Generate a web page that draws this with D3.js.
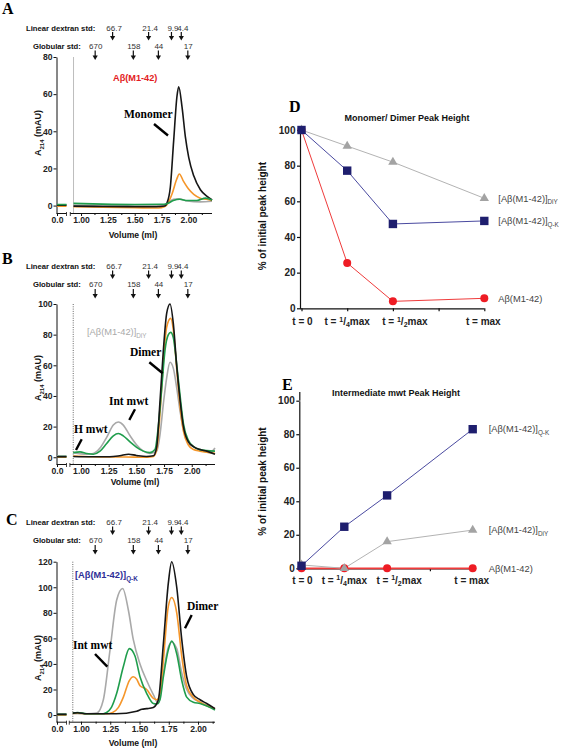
<!DOCTYPE html>
<html><head><meta charset="utf-8">
<script src="https://cdn.jsdelivr.net/npm/d3@7"></script>
<style>
body{margin:0;background:#fff}
svg{display:block}
</style>
</head><body>
<svg id="c" width="563" height="750"></svg>
<script>
// ---------------- DATA ----------------
// chromatograms: [volume (ml), A214 (mAU)], null = axis break
const A_grey   = [[0,0.3],[0.1,0.3],[0.5,null],[0.93,0.2],[1.5,0],[1.75,0.2],[1.80,1],[1.86,3.4],[1.91,3.6],[1.99,2.5],[2.11,2],[2.22,2.3]];
const A_orange = [[0,-0.3],[0.1,-0.3],[0.5,null],[0.93,-0.6],[1.2,-0.9],[1.5,-1.2],[1.72,-1.3],[1.78,-0.5],[1.80,0.5],[1.85,6.6],[1.89,14],[1.916,17],[1.955,13],[2.0,9],[2.05,6],[2.11,4],[2.17,3.4],[2.22,2.7]];
const A_green  = [[0,0.6],[0.1,0.6],[0.5,null],[0.93,1.2],[1.2,0.8],[1.5,0.6],[1.75,0.7],[1.80,1],[1.86,2.7],[1.92,3.4],[1.99,2.7],[2.08,2.7],[2.16,4],[2.22,3]];
const A_black  = [[0,0.2],[0.1,0.2],[0.5,null],[0.93,-0.3],[1.2,-0.5],[1.5,-0.6],[1.7,-0.6],[1.78,-0.2],[1.80,1.3],[1.832,10],[1.863,35],[1.894,59],[1.91,64],[1.941,53],[1.972,37],[2.003,26],[2.05,16],[2.112,8.5],[2.174,5],[2.221,3]];

const B_grey   = [[0,1],[0.1,1],[0.5,null],[0.93,3],[1.051,2],[1.111,2.5],[1.172,6],[1.232,13],[1.292,21],[1.337,23],[1.382,21],[1.443,14],[1.503,8],[1.563,4],[1.623,2.5],[1.684,4],[1.714,15],[1.744,35],[1.774,52],[1.804,62],[1.834,58],[1.865,45],[1.895,30],[1.925,18],[1.97,10],[2.015,7],[2.075,5],[2.165,3],[2.21,6]];
const B_orange = [[0,0],[0.1,0],[0.5,null],[0.93,0.8],[1.1,0.3],[1.4,0.2],[1.6,0],[1.654,0.5],[1.684,5],[1.714,29],[1.744,63],[1.774,85],[1.81,90.6],[1.834,83],[1.865,57],[1.895,33],[1.925,17],[1.97,8],[2.015,5],[2.075,4],[2.21,2.6]];
const B_green  = [[0,0.5],[0.1,0.5],[0.5,null],[0.93,3],[0.991,3.5],[1.051,2.5],[1.111,2],[1.172,4],[1.232,9],[1.292,14],[1.337,15.5],[1.382,14],[1.443,10],[1.503,6.5],[1.563,4],[1.623,3],[1.668,5],[1.698,20],[1.729,45],[1.759,70],[1.789,80],[1.81,81.5],[1.834,78],[1.865,60],[1.895,40],[1.925,22],[1.97,11],[2.015,7],[2.075,5],[2.21,4]];
const B_black  = [[0,0.3],[0.1,0.3],[0.5,null],[0.93,0.5],[1.1,0.3],[1.26,0.3],[1.35,1],[1.43,2],[1.5,1.2],[1.59,0.5],[1.654,1],[1.684,7],[1.714,37],[1.744,70],[1.774,94],[1.804,100],[1.834,87],[1.865,59],[1.895,37],[1.925,20],[1.97,10],[2.015,7],[2.075,5],[2.135,4],[2.21,2]];

const C_grey   = [[0,0.5],[0.1,0.5],[0.5,null],[0.93,1.2],[1.05,1],[1.134,1.5],[1.191,12],[1.248,51],[1.305,90],[1.356,99],[1.405,82],[1.447,59],[1.504,40],[1.561,27],[1.618,16],[1.661,9],[1.704,33],[1.746,53],[1.775,57],[1.818,52],[1.861,33],[1.903,20],[1.96,13],[2.017,10],[2.145,5]];
const C_orange = [[0,0],[0.1,0],[0.5,null],[0.93,1.2],[0.97,1.5],[1.05,1],[1.219,1],[1.27,2],[1.32,6],[1.362,14],[1.413,27],[1.447,30],[1.476,28],[1.504,23],[1.561,20],[1.618,13],[1.647,12],[1.675,17],[1.704,43],[1.746,85],[1.775,92],[1.818,80],[1.861,46],[1.903,23],[1.96,14],[2.017,10],[2.145,5]];
const C_green  = [[0,0.5],[0.1,0.5],[0.5,null],[0.93,1.5],[0.97,2],[1.05,1],[1.19,1],[1.219,2],[1.26,6],[1.305,17],[1.362,38],[1.413,52],[1.462,46],[1.504,30],[1.561,17],[1.618,9],[1.647,8.6],[1.675,12],[1.704,30],[1.746,51],[1.775,58],[1.818,48],[1.861,27],[1.903,14],[1.96,10],[2.017,9],[2.145,4]];
const C_black  = [[0,0.5],[0.1,0.5],[0.5,null],[0.93,1.5],[0.97,1.8],[1.05,1],[1.3,1],[1.476,3],[1.52,4.5],[1.561,5],[1.618,6],[1.661,12],[1.704,56],[1.746,103],[1.775,120],[1.818,100],[1.861,59],[1.903,30],[1.96,16],[2.017,12],[2.074,9],[2.145,5]];

const voidVolume = 0.93;
const volTicks = [0, 1, 1.25, 1.5, 1.75, 2];
const volTickLabels = ["0.0", "1.00", "1.25", "1.50", "1.75", "2.00"];
const volMinor = [1.125, 1.375, 1.625, 1.875, 2.125];
const yTicksA = [0, 20, 40, 60, 80];
const yTicksB = [0, 20, 40, 60, 80, 100];
const yTicksC = [0, 20, 40, 60, 80, 100, 120];

const dextranLabels = ["66.7", "21.4", "9.9", "4.4"];
const dextranVol    = [1.29, 1.62, 1.83, 1.92];
const globularLabels = ["670", "158", "44", "17"];
const globularVol    = [1.13, 1.48, 1.71, 1.98];

// time course panels
const timePos = [0, 1, 2, 4];
const timeLabels = ["t = 0", "t = 1/4max", "t = 1/2max", "t = max"];
const pctTicks = [0, 20, 40, 60, 80, 100];
const D_DiY = [100, 91, 82, 61.7];
const D_QK  = [100, 77.2, 47.3, 49];
const D_WT  = [100, 25.4, 3.9, 5.6];
const E_DiY = [2, 0, 15.9, 22.8];
const E_QK  = [1.5, 24.8, 43.5, 83];
const E_WT  = [0, 0, 0, 0];

// ---------------- DRAW ----------------
const svg = d3.select("#c");
const SANS = '"Liberation Sans", Arial, Helvetica, sans-serif';
const SERIF = '"Liberation Serif", "Times New Roman", serif';
const COL = {black:"#161616", orange:"#f5962a", green:"#1f9d4c", grey:"#a9a9a9"};

function txt(g, x, y, s, o = {}) {
  return g.append("text").attr("x", x).attr("y", y).text(s)
    .attr("font-family", o.family || SANS).attr("font-size", o.size || 9)
    .attr("font-weight", o.weight || "normal").attr("fill", o.fill || "#111")
    .attr("text-anchor", o.anchor || "start");
}
function subText(g, x, y, main, sub, o = {}) {
  const t = g.append("text").attr("x", x).attr("y", y)
    .attr("font-family", o.family || SANS).attr("font-size", o.size || 9)
    .attr("font-weight", o.weight || "normal").attr("fill", o.fill || "#111")
    .attr("text-anchor", o.anchor || "start");
  if (o.transform) t.attr("transform", o.transform);
  t.append("tspan").text(main);
  if (sub) t.append("tspan").text(sub).attr("font-size", (o.size || 9) * 0.68).attr("dy", (o.size || 9) * 0.3);
  if (o.after) t.append("tspan").text(o.after).attr("dy", -(o.size || 9) * 0.3);
  return t;
}
function pointer(g, x1, y1, x2, y2) {
  g.append("line").attr("x1", x1).attr("y1", y1).attr("x2", x2).attr("y2", y2)
    .attr("stroke", "#000").attr("stroke-width", 2.4);
}

function header(g, H) {
  const hx = d3.scaleLinear().domain([1, 2]).range([81, 190]);
  txt(g, 26, H, "Linear dextran std:", {size: 7.7, weight: "bold"});
  txt(g, 33, H + 18, "Globular std:", {size: 7.7, weight: "bold"});
  const arrow = (xv, y1, y2) => {
    g.append("line").attr("x1", xv).attr("x2", xv).attr("y1", y1).attr("y2", y2 - 3)
      .attr("stroke", "#111").attr("stroke-width", 1.2);
    g.append("path").attr("d", `M${xv - 2.6},${y2 - 4.5}L${xv + 2.6},${y2 - 4.5}L${xv},${y2}Z`).attr("fill", "#111");
  };
  dextranVol.forEach((v, i) => {
    arrow(hx(v), H + 1.5, H + 10);
    txt(g, hx(v) + 1.5, H, dextranLabels[i], {size: 8, anchor: "middle", fill: "#333"});
  });
  globularVol.forEach((v, i) => {
    arrow(hx(v), H + 20, H + 29.5);
    txt(g, hx(v) + 0.5, H + 18, globularLabels[i], {size: 8, anchor: "middle", fill: "#333"});
  });
}

function chromPanel(P, series) {
  const g = svg.append("g");
  const x = d3.scaleLinear().domain([0, 0.1, 0.9, P.xMax]).range([57, 66.5, P.x09, P.xEnd]);
  const y = d3.scaleLinear().domain([P.yMin, P.yMax]).range([P.yBot, P.yTop]);

  txt(g, P.letterX, P.letterY, P.letter, {family: SERIF, size: 16, weight: "bold", fill: "#000"});
  header(g, P.H);

  // void marker line
  g.append("line").attr("x1", x(voidVolume)).attr("x2", x(voidVolume))
    .attr("y1", P.yTop).attr("y2", P.yBot)
    .attr("stroke", P.dash ? "#666" : "#bdbdbd").attr("stroke-width", 1)
    .attr("stroke-dasharray", P.dash ? "1,1.3" : null);

  // y axis
  const ya = g.append("g").attr("transform", "translate(56.5,0)")
    .call(d3.axisLeft(y).tickValues(P.yTicks).tickSize(3).tickSizeOuter(0).tickPadding(1));
  // x axis (broken)
  const xa = g.append("g").attr("transform", `translate(0,${P.yBot})`)
    .call(d3.axisBottom(x).tickValues(volTicks).tickFormat((d, i) => volTickLabels[i]).tickSize(3).tickPadding(1.2));
  xa.select(".domain").remove();
  const xm = g.append("g").attr("transform", `translate(0,${P.yBot})`)
    .call(d3.axisBottom(x).tickValues(volMinor.filter(v => v <= P.xMax)).tickFormat("").tickSize(2));
  xm.select(".domain").remove();
  [[0, 0.1], [0.9, P.xMax]].forEach(([a, b]) => {
    g.append("line").attr("x1", x(a) - (a === 0 ? 0.5 : 0)).attr("x2", x(b)).attr("y1", P.yBot + 0.5).attr("y2", P.yBot + 0.5)
      .attr("stroke", "#111").attr("stroke-width", 1);
  });
  [x(0.1), x(0.9)].forEach(xv => {
    g.append("line").attr("x1", xv).attr("x2", xv).attr("y1", P.yBot - 1).attr("y2", P.yBot + 3)
      .attr("stroke", "#111").attr("stroke-width", 0.8);
  });
  [ya, xa].forEach(a => {
    a.selectAll("text").attr("font-family", SANS).attr("font-size", 8.6).attr("font-weight", "bold").attr("fill", "#222");
    a.selectAll("path,line").attr("stroke", "#111");
  });

  // titles
  txt(g, P.xTitleX, P.xTitleY, "Volume (ml)", {size: 8.6, weight: "bold", anchor: "middle"});
  subText(g, 0, 0, "A", "214", {size: 9, weight: "bold", anchor: "middle", after: " (mAU)",
    transform: `translate(41,${P.yTitleY}) rotate(-90)`});

  // traces
  const line = d3.line().defined(d => d[1] !== null).x(d => x(d[0])).y(d => y(d[1])).curve(d3.curveMonotoneX);
  series.forEach(s => {
    g.append("path").datum(s.data).attr("d", line).attr("fill", "none")
      .attr("stroke", COL[s.color]).attr("stroke-width", 1.6).attr("stroke-linejoin", "round");
  });
  return g;
}

// Panel A
const gA = chromPanel({letter: "A", letterX: 2, letterY: 14, H: 30.5, xMax: 2.22, x09: 70.3, xEnd: 212,
  yMin: -4, yMax: 80, yBot: 213, yTop: 57, yTicks: yTicksA, dash: false, xTitleX: 133, xTitleY: 238, yTitleY: 133},
  [{data: A_grey, color: "grey"}, {data: A_orange, color: "orange"}, {data: A_black, color: "black"}, {data: A_green, color: "green"}]);
txt(gA, 113, 81, "Aβ(M1-42)", {size: 9.2, weight: "bold", fill: "#e31b23"});
txt(gA, 124, 117.5, "Monomer", {family: SERIF, size: 11.5, weight: "bold", fill: "#000"});
pointer(gA, 154, 124, 168, 135.5);

// Panel B
const gB = chromPanel({letter: "B", letterX: 2, letterY: 264, H: 269, xMax: 2.21, x09: 69.9, xEnd: 215,
  yMin: -4.4, yMax: 100, yBot: 464, yTop: 304, yTicks: yTicksB, dash: true, xTitleX: 135, xTitleY: 484.5, yTitleY: 378},
  [{data: B_grey, color: "grey"}, {data: B_orange, color: "orange"}, {data: B_green, color: "green"}, {data: B_black, color: "black"}]);
subText(gB, 87, 335, "[Aβ(M1-42)]", "DiY", {size: 9.3, fill: "#a9a9a9"});
txt(gB, 130, 356, "Dimer", {family: SERIF, size: 11.5, weight: "bold", fill: "#000"});
pointer(gB, 149.3, 362.3, 162.7, 373.3);
txt(gB, 109, 405, "Int mwt", {family: SERIF, size: 11.5, weight: "bold", fill: "#000"});
pointer(gB, 135, 409.3, 129.3, 420);
txt(gB, 74, 432.7, "H mwt", {family: SERIF, size: 11.5, weight: "bold", fill: "#000"});
pointer(gB, 81.7, 439.3, 76, 450);

// Panel C
const gC = chromPanel({letter: "C", letterX: 6, letterY: 525, H: 525, xMax: 2.145, x09: 69.3, xEnd: 215,
  yMin: -5.2, yMax: 120, yBot: 721.7, yTop: 561.7, yTicks: yTicksC, dash: true, xTitleX: 133, xTitleY: 746, yTitleY: 658},
  [{data: C_grey, color: "grey"}, {data: C_orange, color: "orange"}, {data: C_green, color: "green"}, {data: C_black, color: "black"}]);
subText(gC, 75, 578, "[Aβ(M1-42)]", "Q-K", {size: 9.3, weight: "bold", fill: "#2e2e96"});
txt(gC, 187, 610, "Dimer", {family: SERIF, size: 11.5, weight: "bold", fill: "#000"});
pointer(gC, 191.7, 615, 185, 628.3);
txt(gC, 73, 649.3, "Int mwt", {family: SERIF, size: 11.5, weight: "bold", fill: "#000"});
pointer(gC, 95, 654, 107.3, 666.7);

// time-course panels
const TCOL = {wtLine: "#ef3b3b", wt: "#ee1c24", qkLine: "#4a4aa0", qk: "#1e1e6e", diyLine: "#b3b3b3", diy: "#a3a3a3"};
const labelDx = [1, 0, 12, -1];

function timePanel(P, wt, diy, qk) {
  const g = svg.append("g");
  const x = d3.scaleLinear().domain([0, 4]).range([P.x0, P.x4]);
  const y = d3.scaleLinear().domain([0, 100]).range([P.yBot, P.yTop]);
  txt(g, P.letterX, P.letterY, P.letter, {family: SERIF, size: 16, weight: "bold", fill: "#000"});
  txt(g, P.titleX, P.titleY, P.title, {size: 9, weight: "bold", anchor: "middle"});

  const ya = g.append("g").attr("transform", `translate(${P.axisX},0)`)
    .call(d3.axisLeft(y).tickValues(pctTicks).tickSize(3).tickSizeOuter(0).tickPadding(1.5));
  if (P.axisTop) g.append("line").attr("x1", P.axisX + 0.5).attr("x2", P.axisX + 0.5).attr("y1", P.axisTop).attr("y2", P.yTop).attr("stroke", "#111").attr("stroke-width", 1.2);
  const xa = g.append("g").attr("transform", `translate(0,${P.yBot})`)
    .call(d3.axisBottom(x).tickValues([0, 1, 2, 3, 4]).tickFormat("").tickSize(3).tickSizeOuter(0));
  xa.select(".domain").attr("d", `M${P.axisX},0.5H${x(4)}`);
  [ya, xa].forEach(a => {
    a.selectAll("text").attr("font-family", SANS).attr("font-size", 10).attr("font-weight", "bold").attr("fill", "#222");
    a.selectAll("path,line").attr("stroke", "#111").attr("stroke-width", 1.2);
  });
  // category labels with fractions
  timeLabels.forEach((lab, i) => {
    const t = g.append("text").attr("x", x(timePos[i]) + labelDx[i]).attr("y", P.yBot + P.labDy)
      .attr("font-family", SANS).attr("font-size", 10).attr("font-weight", "bold").attr("fill", "#222")
      .attr("text-anchor", "middle");
    const m = lab.match(/^(t = )(\d)\/(\d)(.*)$/);
    if (m) {
      t.append("tspan").text(m[1]);
      t.append("tspan").text(m[2]).attr("font-size", 7).attr("dy", -3.5);
      t.append("tspan").text("/").attr("dy", 3.5);
      t.append("tspan").text(m[3]).attr("font-size", 7).attr("dy", 2);
      t.append("tspan").text(m[4]).attr("dy", -2);
    } else t.text(lab);
  });
  subText(g, 0, 0, "% of initial peak height", "", {size: 10, weight: "bold", anchor: "middle",
    transform: `translate(266,${(P.yBot + P.yTop) / 2 - 3}) rotate(-90)`});

  const line = d3.line().x((d, i) => x(timePos[i])).y(d => y(d));
  const drawSeries = (vals, lc, lw) => g.append("path").datum(vals).attr("d", line).attr("fill", "none").attr("stroke", lc).attr("stroke-width", lw);
  drawSeries(wt, TCOL.wtLine, P.wtW);
  drawSeries(diy, TCOL.diyLine, 1);
  drawSeries(qk, TCOL.qkLine, 1);
  wt.forEach((v, i) => g.append("circle").attr("cx", x(timePos[i])).attr("cy", y(v)).attr("r", 4).attr("fill", TCOL.wt));
  diy.forEach((v, i) => g.append("path").attr("transform", `translate(${x(timePos[i])},${y(v)})`)
    .attr("d", d3.symbol(d3.symbolTriangle, 38)).attr("fill", TCOL.diy));
  qk.forEach((v, i) => g.append("rect").attr("x", x(timePos[i]) - 4.2).attr("y", y(v) - 4.2)
    .attr("width", 8.4).attr("height", 8.4).attr("fill", TCOL.qk));

  const lx = x(4) + P.legDx;
  subText(g, lx, y(diy[3]) + 3.3, "[Aβ(M1-42)]", "DiY", {size: 9.3, fill: "#444"});
  subText(g, lx, y(qk[3]) + 3.3, "[Aβ(M1-42)]", "Q-K", {size: 9.3, fill: "#444"});
  txt(g, lx, y(wt[3]) + 3.3, "Aβ(M1-42)", {size: 9.3, fill: "#444"});
}

timePanel({letter: "D", letterX: 289, letterY: 112, title: "Monomer/ Dimer Peak Height", titleX: 407, titleY: 120.5,
  x0: 301.5, x4: 484.3, yBot: 308.3, yTop: 130, axisX: 300, labDy: 17, legDx: 14, wtW: 1}, D_WT, D_DiY, D_QK);
timePanel({letter: "E", letterX: 282, letterY: 390, title: "Intermediate mwt Peak Height", titleX: 396, titleY: 395.5,
  x0: 301.5, x4: 472.7, yBot: 568.3, yTop: 400.7, axisX: 299.3, axisTop: 392, labDy: 15.5, legDx: 16, wtW: 1.8}, E_WT, E_DiY, E_QK);
</script>
</body></html>
